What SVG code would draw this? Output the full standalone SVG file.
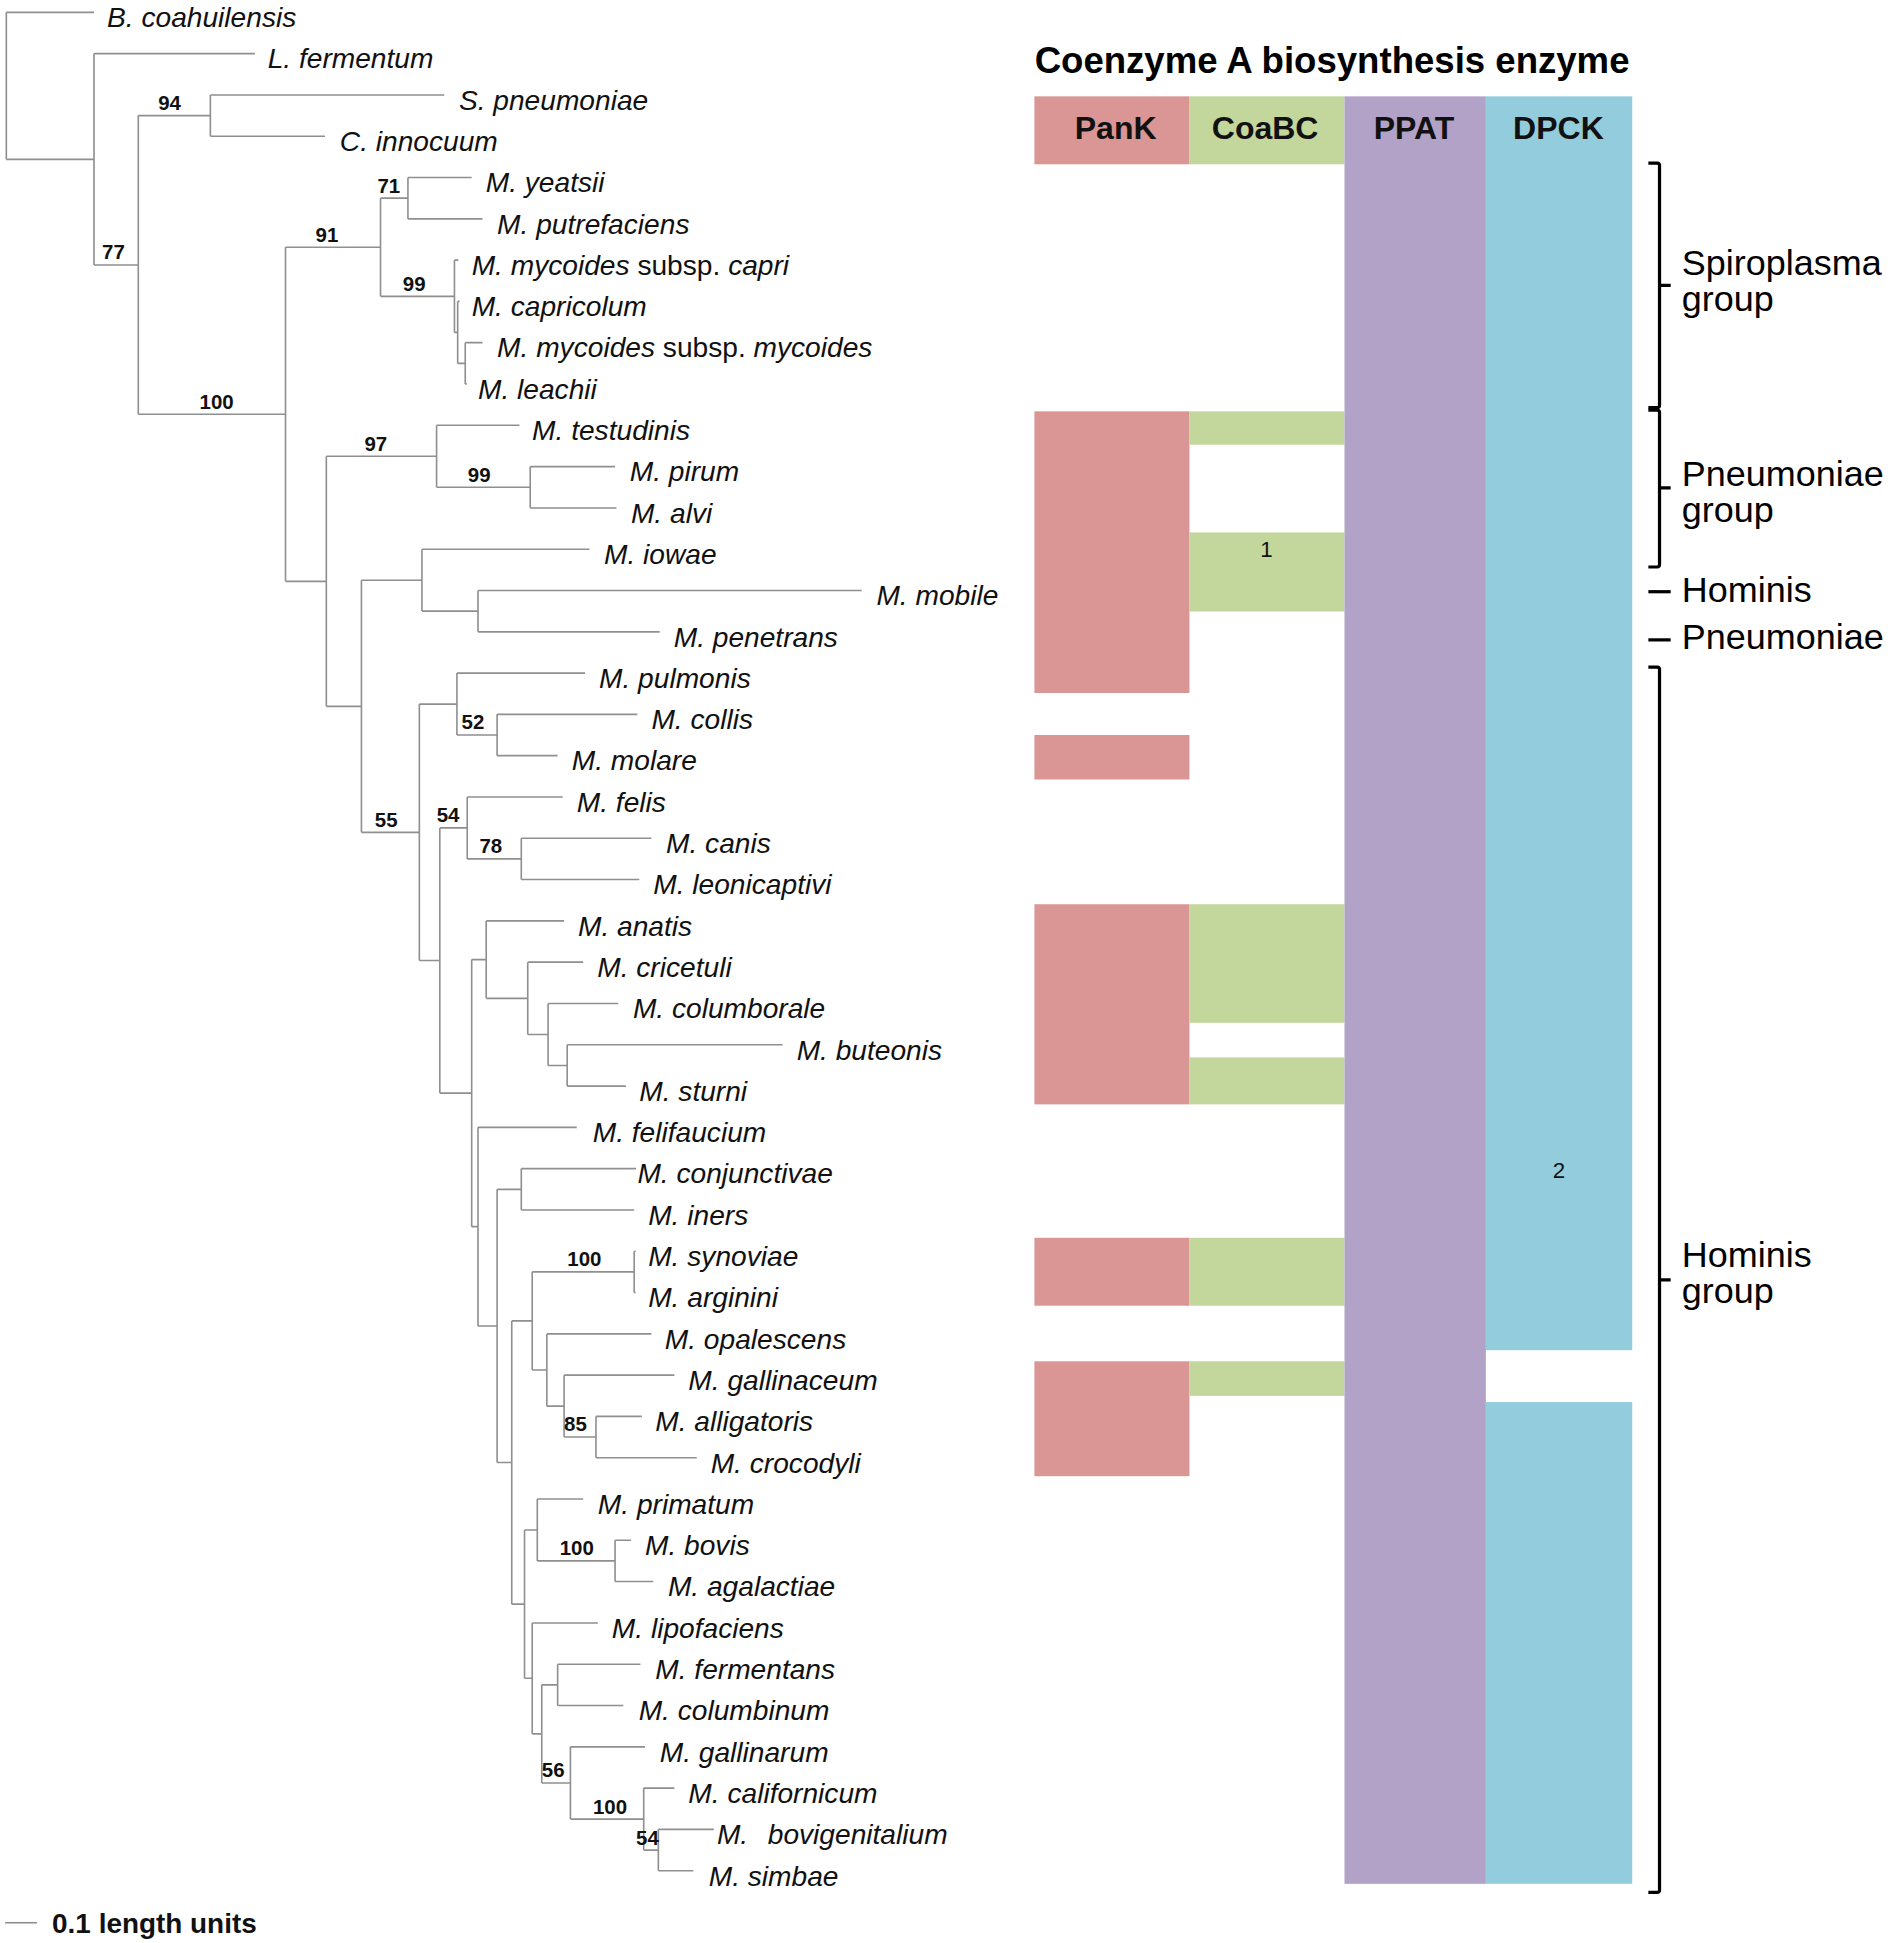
<svg xmlns="http://www.w3.org/2000/svg" width="1890" height="1943" viewBox="0 0 1890 1943">
<style>
.br{fill:none;stroke:#8f8f8f;stroke-width:1.3}
.tx{font-family:"Liberation Sans",Arial,sans-serif;font-size:22.7px;font-style:italic;fill:#111}
.n{font-style:normal}
.bs{font-family:"Liberation Sans",Arial,sans-serif;font-weight:bold;font-size:16.5px;text-anchor:middle;fill:#111}
.hd{font-family:"Liberation Sans",Arial,sans-serif;font-weight:bold;font-size:25.8px;text-anchor:middle;fill:#111}
.ti{font-family:"Liberation Sans",Arial,sans-serif;font-weight:bold;font-size:29.5px;fill:#000}
.gp{font-family:"Liberation Sans",Arial,sans-serif;font-size:29px;fill:#000}
.nm{font-family:"Liberation Sans",Arial,sans-serif;font-size:18px;text-anchor:middle;fill:#111}
.brk{fill:none;stroke:#000;stroke-width:2.6}
.pk{fill:#D99694}.cb{fill:#C3D69B}.pp{fill:#B3A2C7}.dp{fill:#93CDDD}
</style>
<rect width="1890" height="1943" fill="#fff"/>
<g transform="matrix(1.2403 0 0 1.2353 0 0)">
<g id="connectors">
<path class="br" d="M5.1 10V129M75.8 43.4V214.5M111.5 93.6V335.4M169.6 76.9V110.3M230.2 200.1V470.6M306.8 160.4V239.9M328.9 143.7V177.2M366.4 210.6V269.1M369 244V294.2M375.1 277.4V310.9M263.1 369.4V571.8M352 344.3V394.4M427.5 377.7V411.2M291.4 469.7V673.8M340.2 444.6V494.7M385.4 478V511.5M338.1 570V777.6M368.4 544.9V595M400.8 578.3V611.7M354.6 670.2V884.9M376.7 645.2V695.3M420.3 678.6V712M380.3 776.8V993M392 745.5V808.2M425.5 778.9V837.4M441.9 812.3V862.5M457.3 845.8V879.2M385.4 912.6V1073.4M400.8 962.8V1183.9M420.3 946V979.5M412.6 1069.3V1298.6M429.1 1029.6V1109M511.3 1012.9V1046.3M440.9 1079.8V1138.3M454.8 1113.2V1163.3M480.5 1146.6V1180.1M422.9 1238.6V1358.6M433.2 1213.5V1263.6M495.9 1246.9V1280.3M429.1 1313.8V1403.6M436.8 1363.9V1443.4M449.6 1347.2V1380.6M459.9 1414.1V1472.6M519 1447.5V1497.7M530.8 1480.9V1514.4"/>
<path class="br" d="M5.1 129H75.8M75.8 214.5H111.5M111.5 93.6H169.6M111.5 335.4H230.2M230.2 200.1H306.8M306.8 160.4H328.9M306.8 239.9H366.4M366.4 269.1H369M369 294.2H375.1M230.2 470.6H263.1M263.1 369.4H352M352 394.4H427.5M263.1 571.8H291.4M291.4 469.7H340.2M340.2 494.7H385.4M291.4 673.8H338.1M338.1 570H368.4M368.4 595H400.8M338.1 777.6H354.6M354.6 670.2H376.7M376.7 695.3H420.3M354.6 884.9H380.3M380.3 776.8H392M392 808.2H425.5M425.5 837.4H441.9M441.9 862.5H457.3M380.3 993H385.4M385.4 1073.4H400.8M400.8 962.8H420.3M400.8 1183.9H412.6M412.6 1069.3H429.1M429.1 1029.6H511.3M429.1 1109H440.9M440.9 1138.3H454.8M454.8 1163.3H480.5M412.6 1298.6H422.9M422.9 1238.6H433.2M433.2 1263.6H495.9M422.9 1358.6H429.1M429.1 1403.6H436.8M436.8 1363.9H449.6M436.8 1443.4H459.9M459.9 1472.6H519M519 1497.7H530.8"/>
<path class="br" d="M5.1 10H75.8M75.8 43.4H205.5M169.6 76.9H358.2M169.6 110.3H262M328.9 143.7H380.3M328.9 177.2H389M366.4 210.6H369.5M369 244H370.5M375.1 277.4H389M375.1 310.9H376.5M352 344.3H418.8M427.5 377.7H495.9M427.5 411.2H497M340.2 444.6H475.3M385.4 478H694.8M385.4 511.5H531.9M368.4 544.9H471.7M400.8 578.3H513.9M400.8 611.7H449.6M376.7 645.2H453.7M420.3 678.6H525.2M420.3 712H515.4M392 745.5H454.8M425.5 778.9H470.2M441.9 812.3H498.5M457.3 845.8H631M457.3 879.2H504.6M385.4 912.6H465M420.3 946H512.8M420.3 979.5H511.3M511.3 1012.9H512.5M511.3 1046.3H512.5M440.9 1079.8H525.2M454.8 1113.2H543.7M480.5 1146.6H517.5M480.5 1180.1H561.7M433.2 1213.5H470.2M495.9 1246.9H508.7M495.9 1280.3H526.7M429.1 1313.8H482M449.6 1347.2H516.4M449.6 1380.6H502.6M459.9 1414.1H520M519 1447.5H543.7M530.8 1480.9H575.5M530.8 1514.4H559"/>
</g>
<g id="bootstrap">
<text class="bs" x="91.5" y="210">77</text>
<text class="bs" x="136.7" y="89.1">94</text>
<text class="bs" x="174.7" y="330.9">100</text>
<text class="bs" x="263.6" y="195.6">91</text>
<text class="bs" x="313.5" y="155.9">71</text>
<text class="bs" x="334" y="235.4">99</text>
<text class="bs" x="303" y="364.9">97</text>
<text class="bs" x="386.4" y="389.9">99</text>
<text class="bs" x="311.4" y="669.3">55</text>
<text class="bs" x="381.3" y="590.5">52</text>
<text class="bs" x="361.3" y="665.7">54</text>
<text class="bs" x="395.7" y="690.8">78</text>
<text class="bs" x="471.2" y="1025.1">100</text>
<text class="bs" x="464" y="1158.8">85</text>
<text class="bs" x="465" y="1259.1">100</text>
<text class="bs" x="446" y="1438.9">56</text>
<text class="bs" x="491.8" y="1468.1">100</text>
<text class="bs" x="522" y="1493.2">54</text>
</g>
<g id="taxa">
<g id="t-b-coahuilensis"><text class="tx" x="86.3" y="22">B. coahuilensis</text></g>
<g id="t-l-fermentum"><text class="tx" x="215.8" y="55.4">L. fermentum</text></g>
<g id="t-s-pneumoniae"><text class="tx" x="370" y="88.9">S. pneumoniae</text></g>
<g id="t-c-innocuum"><text class="tx" x="274" y="122.3">C. innocuum</text></g>
<g id="t-m-yeatsii"><text class="tx" x="391.6" y="155.7">M. yeatsii</text></g>
<g id="t-m-putrefaciens"><text class="tx" x="400.8" y="189.2">M. putrefaciens</text></g>
<g id="t-m-mycoides-capri"><text class="tx" x="380.3" y="222.6">M. mycoides <tspan class="n">subsp.</tspan>  capri</text></g>
<g id="t-m-capricolum"><text class="tx" x="380.3" y="256">M. capricolum</text></g>
<g id="t-m-mycoides-mycoides"><text class="tx" x="400.8" y="289.4">M. mycoides <tspan class="n">subsp.</tspan>  mycoides</text></g>
<g id="t-m-leachii"><text class="tx" x="385.4" y="322.9">M. leachii</text></g>
<g id="t-m-testudinis"><text class="tx" x="429" y="356.3">M. testudinis</text></g>
<g id="t-m-pirum"><text class="tx" x="507.7" y="389.7">M. pirum</text></g>
<g id="t-m-alvi"><text class="tx" x="508.7" y="423.2">M. alvi</text></g>
<g id="t-m-iowae"><text class="tx" x="487" y="456.6">M. iowae</text></g>
<g id="t-m-mobile"><text class="tx" x="706.6" y="490">M. mobile</text></g>
<g id="t-m-penetrans"><text class="tx" x="543.2" y="523.5">M. penetrans</text></g>
<g id="t-m-pulmonis"><text class="tx" x="483" y="556.9">M. pulmonis</text></g>
<g id="t-m-collis"><text class="tx" x="525.2" y="590.3">M. collis</text></g>
<g id="t-m-molare"><text class="tx" x="461" y="623.7">M. molare</text></g>
<g id="t-m-felis"><text class="tx" x="465" y="657.2">M. felis</text></g>
<g id="t-m-canis"><text class="tx" x="537" y="690.6">M. canis</text></g>
<g id="t-m-leonicaptivi"><text class="tx" x="526.7" y="724">M. leonicaptivi</text></g>
<g id="t-m-anatis"><text class="tx" x="466" y="757.5">M. anatis</text></g>
<g id="t-m-cricetuli"><text class="tx" x="481.5" y="790.9">M. cricetuli</text></g>
<g id="t-m-columborale"><text class="tx" x="510.3" y="824.3">M. columborale</text></g>
<g id="t-m-buteonis"><text class="tx" x="642.3" y="857.8">M. buteonis</text></g>
<g id="t-m-sturni"><text class="tx" x="515.4" y="891.2">M. sturni</text></g>
<g id="t-m-felifaucium"><text class="tx" x="477.9" y="924.6">M. felifaucium</text></g>
<g id="t-m-conjunctivae"><text class="tx" x="513.9" y="958">M. conjunctivae</text></g>
<g id="t-m-iners"><text class="tx" x="522.6" y="991.5">M. iners</text></g>
<g id="t-m-synoviae"><text class="tx" x="522.6" y="1024.9">M. synoviae</text></g>
<g id="t-m-arginini"><text class="tx" x="522.6" y="1058.3">M. arginini</text></g>
<g id="t-m-opalescens"><text class="tx" x="536" y="1091.8">M. opalescens</text></g>
<g id="t-m-gallinaceum"><text class="tx" x="555" y="1125.2">M. gallinaceum</text></g>
<g id="t-m-alligatoris"><text class="tx" x="528.3" y="1158.6">M. alligatoris</text></g>
<g id="t-m-crocodyli"><text class="tx" x="573" y="1192.1">M. crocodyli</text></g>
<g id="t-m-primatum"><text class="tx" x="482" y="1225.5">M. primatum</text></g>
<g id="t-m-bovis"><text class="tx" x="520" y="1258.9">M. bovis</text></g>
<g id="t-m-agalactiae"><text class="tx" x="538.5" y="1292.3">M. agalactiae</text></g>
<g id="t-m-lipofaciens"><text class="tx" x="493.3" y="1325.8">M. lipofaciens</text></g>
<g id="t-m-fermentans"><text class="tx" x="528.3" y="1359.2">M. fermentans</text></g>
<g id="t-m-columbinum"><text class="tx" x="514.9" y="1392.6">M. columbinum</text></g>
<g id="t-m-gallinarum"><text class="tx" x="531.9" y="1426.1">M. gallinarum</text></g>
<g id="t-m-californicum"><text class="tx" x="555" y="1459.5">M. californicum</text></g>
<g id="t-m-bovigenitalium"><text class="tx" x="578" y="1492.9">M. <tspan x="619">bovigenitalium</tspan></text></g>
<g id="t-m-simbae"><text class="tx" x="571.4" y="1526.4">M. simbae</text></g>
</g>
<g id="scale-bar">
<path class="br" d="M4.1 1556.5H29.8"/>
<text x="42" y="1564.5" style="font-family:'Liberation Sans',Arial,sans-serif;font-weight:bold;font-size:22.5px;fill:#111">0.1 length units</text>
</g>
<g id="title"><text class="ti" x="1074" y="59" text-anchor="middle">Coenzyme A biosynthesis enzyme</text></g>
<g id="col-pank">
<rect class="pk" x="834" y="78" width="125" height="55"/>
<text class="hd" x="899.5" y="112.8">PanK</text>
<rect class="pk" x="834" y="333" width="125" height="228"/>
<rect class="pk" x="834" y="595" width="125" height="36"/>
<rect class="pk" x="834" y="732" width="125" height="162"/>
<rect class="pk" x="834" y="1002" width="125" height="55"/>
<rect class="pk" x="834" y="1102" width="125" height="93"/>
</g>
<g id="col-coabc">
<rect class="cb" x="959" y="78" width="125" height="55"/>
<text class="hd" x="1020" y="112.8">CoaBC</text>
<rect class="cb" x="959" y="333" width="125" height="27"/>
<rect class="cb" x="959" y="431" width="125" height="64"/>
<text class="nm" x="1021" y="451">1</text>
<rect class="cb" x="959" y="732" width="125" height="96"/>
<rect class="cb" x="959" y="856" width="125" height="38"/>
<rect class="cb" x="959" y="1002" width="125" height="55"/>
<rect class="cb" x="959" y="1102" width="125" height="28"/>
</g>
<g id="col-ppat">
<rect class="pp" x="1084" y="78" width="114" height="1447"/>
<text class="hd" x="1140" y="112.8">PPAT</text>
</g>
<g id="col-dpck">
<rect class="dp" x="1198" y="78" width="118" height="1015"/>
<rect class="dp" x="1198" y="1135" width="118" height="390"/>
<text class="hd" x="1256.5" y="112.8">DPCK</text>
<text class="nm" x="1257" y="954">2</text>
</g>
<g id="grp-spiroplasma">
<path class="brk" d="M1329 132H1336Q1338 132 1338 134V328Q1338 330 1336 330H1329M1338 231H1347"/>
<text class="gp" x="1356" y="222.4">Spiroplasma</text>
<text class="gp" x="1356" y="251.6">group</text>
</g>
<g id="grp-pneumoniae">
<path class="brk" d="M1329 332H1336Q1338 332 1338 334V457Q1338 459 1336 459H1329M1338 395H1347"/>
<text class="gp" x="1356" y="393.4">Pneumoniae</text>
<text class="gp" x="1356" y="422.6">group</text>
</g>
<g id="grp-hominis-single">
<path class="brk" d="M1329 479H1347"/>
<text class="gp" x="1356" y="487">Hominis</text>
</g>
<g id="grp-pneumoniae-single">
<path class="brk" d="M1329 518H1347"/>
<text class="gp" x="1356" y="525">Pneumoniae</text>
</g>
<g id="grp-hominis">
<path class="brk" d="M1329 540H1336Q1338 540 1338 542V1530Q1338 1532 1336 1532H1329M1338 1036H1347"/>
<text class="gp" x="1356" y="1025.4">Hominis</text>
<text class="gp" x="1356" y="1054.6">group</text>
</g>
</g>
</svg>
